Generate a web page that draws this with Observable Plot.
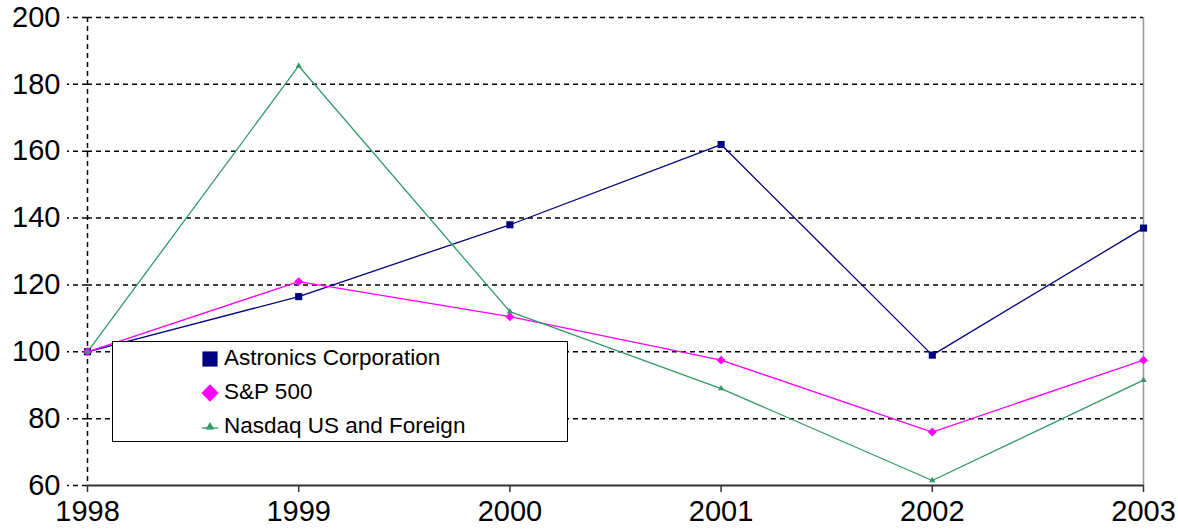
<!DOCTYPE html>
<html>
<head>
<meta charset="utf-8">
<script src="https://cdn.jsdelivr.net/npm/d3@7"></script>
<script src="https://cdn.jsdelivr.net/npm/@observablehq/plot@0.6"></script>
<style>
  html, body { margin: 0; padding: 0; background: #fff; }
  #wrap { position: relative; width: 1178px; height: 529px; font-family: "Liberation Sans", Arial, sans-serif; }
  #legend { position: absolute; left: 112px; top: 341px; width: 456px; height: 101px; border: 1.5px solid #000; background: #fff; box-sizing: border-box; }
  .row { position: absolute; left: 0; height: 30px; width: 100%; font-size: 22.5px; color: #000; }
  .row svg { position: absolute; left: 88px; top: 7px; }
  .row span { position: absolute; left: 111px; top: 2px; white-space: nowrap; }
</style>
</head>
<body>
<div id="wrap"></div>
<script>
const years = [1998, 1999, 2000, 2001, 2002, 2003];
const astronics = [100, 116.5, 138, 162, 99, 137];
const sp500 = [100, 121, 110.5, 97.5, 76, 97.5];
const nasdaq = [100, 185.5, 112, 89, 61.5, 91.5];
const yTicks = [60, 80, 100, 120, 140, 160, 180, 200];
const seriesNames = ["Astronics Corporation", "S&P 500", "Nasdaq US and Foreign"];
const seriesColors = ["#000080", "#FF00FF", "#339966"];
const seriesSymbols = ["square", "diamond2", "triangle2"];
const seriesR = [5, 5, 2.8];

const allSeries = [astronics, sp500, nasdaq];
const data = [];
allSeries.forEach((vals, i) => vals.forEach((v, j) => data.push({series: seriesNames[i], year: years[j], value: v})));

const chart = Plot.plot({
  width: 1178,
  height: 529,
  marginLeft: 87,
  marginRight: 35,
  marginTop: 17,
  marginBottom: 44,
  style: {fontFamily: "'Liberation Sans', Arial, sans-serif", fontSize: "28px", background: "#fff", overflow: "visible"},
  x: {domain: [1998, 2003], label: null},
  y: {domain: [60, 200], label: null},
  color: {domain: seriesNames, range: seriesColors},
  symbol: {domain: seriesNames, range: seriesSymbols},
  marks: [
    Plot.ruleY(yTicks.slice(1), {stroke: "#000", strokeWidth: 1.5, strokeDasharray: "5,4"}),
    Plot.ruleX([years[0]], {stroke: "#000", strokeWidth: 1.5, strokeDasharray: "5,4"}),
    Plot.ruleX([years[years.length - 1]], {stroke: "#999", strokeWidth: 1.5}),
    Plot.ruleY([yTicks[0]], {stroke: "#333", strokeWidth: 2}),
    Plot.axisY({ticks: yTicks, tickSize: 20, tickPadding: 7, label: null, stroke: "#000", strokeWidth: 1.5, strokeDasharray: "5,4", tickFormat: d => String(d), fontSize: 29, fill: "#000"}),
    Plot.axisX({ticks: years, tickSize: 7, tickPadding: 8, label: null, tickFormat: d => String(d), fontSize: 29, fill: "#000", stroke: "#333", strokeWidth: 1.5}),
    Plot.line(data, {x: "year", y: "value", z: "series", stroke: "series", strokeWidth: 1.3}),
    Plot.dot(data, {x: "year", y: "value", fill: "series", symbol: "series", stroke: "none",
      r: d => seriesR[seriesNames.indexOf(d.series)]})
  ]
});
document.getElementById("wrap").appendChild(chart);

// legend overlay
const legend = document.createElement("div");
legend.id = "legend";
const rowTops = [1, 35, 69];
const symMap = {square: d3.symbolSquare, diamond2: d3.symbolDiamond2, triangle2: d3.symbolTriangle2};
seriesNames.forEach((name, i) => {
  const row = document.createElement("div");
  row.className = "row";
  row.style.top = rowTops[i] + "px";
  const sym = d3.create("svg").attr("width", 18).attr("height", 18).attr("viewBox", "-9 -9 18 18");
  const size = [230, 190, 55][i];
  sym.append("path").attr("d", d3.symbol(symMap[seriesSymbols[i]], size)()).attr("fill", seriesColors[i]);
  if (i === 2) sym.append("line").attr("x1", -8).attr("x2", 8).attr("y1", 1).attr("y2", 1).attr("stroke", seriesColors[i]).attr("stroke-width", 1.3);
  row.appendChild(sym.node());
  const span = document.createElement("span");
  span.textContent = name;
  row.appendChild(span);
  legend.appendChild(row);
});
document.getElementById("wrap").appendChild(legend);
</script>
</body>
</html>
